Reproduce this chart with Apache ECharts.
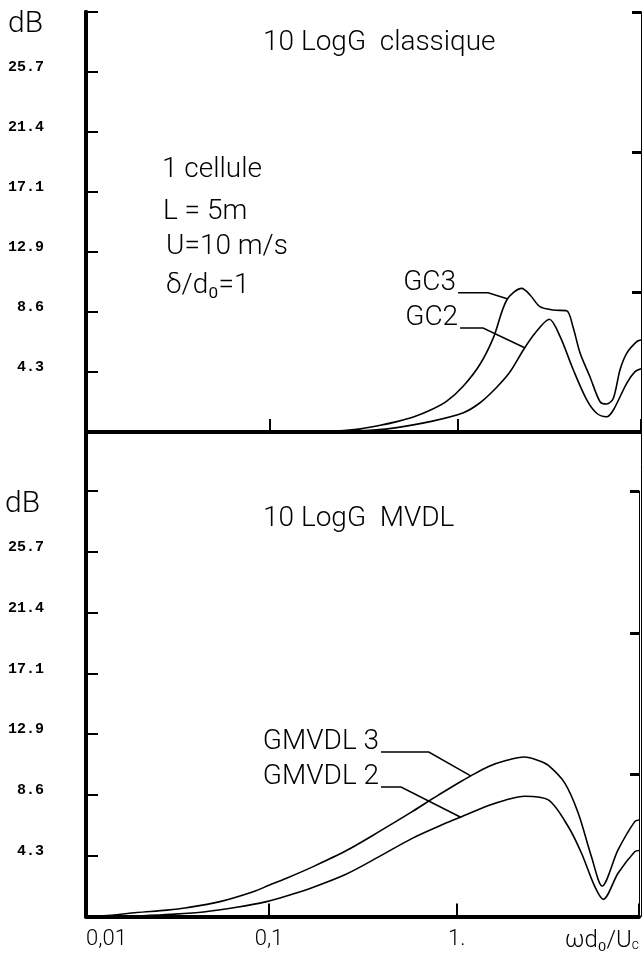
<!DOCTYPE html>
<html>
<head>
<meta charset="utf-8">
<script src="https://cdn.jsdelivr.net/npm/echarts@6/dist/echarts.min.js"></script>
<style>
html,body{margin:0;padding:0;background:#fff;}
#chart{width:642px;height:959px;}
</style>
</head>
<body>
<div id="chart"></div>
<script>
// axe x : wd0/Uc (log), axe y : dB
var xMin = 0.0106, xMax = 9.35;
var yMax = 30, yStep = 30 / 7;

// 10 LogG classique
var gc3X = [0.0106, 0.1, 0.21, 0.29, 0.386, 0.473, 0.579, 0.710, 0.871, 1.067, 1.308, 1.54, 1.813, 2.177, 2.41, 2.72, 3.20, 3.77, 4.07, 4.44, 5.01, 5.67, 6.15, 6.67, 7.23, 7.85, 8.87, 9.35];
var gc3Y = [0, 0, 0.05, 0.19, 0.48, 0.74, 1.07, 1.55, 2.21, 3.29, 4.84, 6.74, 9.43, 10.26, 9.79, 8.95, 8.71, 8.66, 7.52, 5.64, 3.95, 2.16, 2.0, 2.41, 4.43, 5.62, 6.45, 6.57];
var gc2X = [0.0106, 0.2, 0.355, 0.473, 0.710, 1.067, 1.308, 1.604, 1.888, 2.22, 2.56, 3.05, 3.48, 4.09, 4.82, 5.44, 6.15, 6.67, 7.85, 8.69, 9.35];
var gc2Y = [0, 0, 0.14, 0.31, 0.74, 1.38, 2.09, 3.2, 4.3, 5.86, 7.05, 8.05, 6.81, 4.43, 2.29, 1.34, 1.09, 1.57, 3.48, 4.31, 4.52];

// 10 LogG MVDL
var mv3X = [0.0106, 0.0132, 0.0198, 0.0286, 0.0365, 0.0548, 0.0824, 0.1, 0.124, 0.1708, 0.257, 0.3857, 0.579, 0.710, 0.803, 1.025, 1.182, 1.478, 1.81, 2.295, 2.72, 3.076, 3.77, 4.44, 5.22, 5.95, 7.23, 8.87, 9.35];
var mv3Y = [0, 0.05, 0.28, 0.45, 0.62, 1.05, 1.75, 2.2, 2.7, 3.5, 4.63, 5.98, 7.39, 8.14, 8.58, 9.43, 9.9, 10.58, 10.98, 11.25, 11.0, 10.65, 9.39, 7.28, 4.22, 2.15, 4.69, 6.69, 6.8];
var mv2X = [0.0106, 0.0198, 0.0298, 0.0448, 0.0673, 0.097, 0.124, 0.1708, 0.257, 0.3857, 0.579, 0.871, 1.046, 1.478, 1.81, 2.295, 3.076, 3.93, 4.62, 5.44, 6.03, 7.23, 8.87, 9.35];
var mv2Y = [0, 0.03, 0.15, 0.32, 0.65, 1.05, 1.45, 2.05, 2.98, 4.22, 5.51, 6.57, 7.0, 7.82, 8.2, 8.48, 8.22, 6.33, 4.46, 2.10, 1.21, 3.05, 4.57, 4.65];

// etiquettes des courbes : [x, dB] du trait de rappel
var curveLabels = ['GC3', 'GC2', 'GMVDL 3', 'GMVDL 2'];
var leaderPts = [
	[[1.0, 9.95], [1.443, 9.95], [1.84, 9.5]],
	[[1.025, 7.43], [1.357, 7.43], [2.27, 6.0]],
	[[0.395, 11.6], [0.71, 11.6], [1.187, 9.92]],
	[[0.395, 9.13], [0.505, 9.13], [1.05, 7.0]]
];

var xLabels = {'0.01': '0,01', '0.1': '0,1', '1': '1.'};

function zip(xs, ys){
	var out = [];
	for(var i = 0; i < xs.length; i++){
		out.push([xs[i], ys[i]]);
	}
	return out;
}

var lettre = {fontFamily: 'Roboto', fontWeight: 300, fontSize: 28, fill: '#000'};

function xAxisLog(grid, pos, lineW, withTicks, withLabels){
	return {
		type: 'log', logBase: 10, gridIndex: grid, position: pos,
		min: xMin, max: xMax,
		axisLine: {show: lineW > 0, lineStyle: {color: '#000', width: lineW}},
		axisTick: {show: withTicks, inside: true, length: 13, lineStyle: {color: '#000', width: 2}},
		axisLabel: {
			show: withLabels, margin: 12, showMinLabel: true, showMaxLabel: true,
			alignMinLabel: 'left', alignMaxLabel: 'right',
			fontFamily: 'Roboto', fontWeight: 300, fontSize: 22, color: '#000',
			formatter: function(v){
				if(v < 0.05) return xLabels['0.01'];
				if(Math.abs(v - 0.1) < 1e-6) return xLabels['0.1'];
				if(Math.abs(v - 1) < 1e-6) return xLabels['1'];
				if(v > 5) return '{m|ωd₀/U}{s|c}';
				return '';
			},
			rich: {
				m: {fontFamily: 'Roboto', fontWeight: 300, fontSize: 24, color: '#000'},
				s: {fontFamily: 'Roboto', fontWeight: 300, fontSize: 14, color: '#000', padding: [10, 0, 0, 0]}
			}
		},
		splitLine: {show: false}, minorTick: {show: false}
	};
}

function yAxisDb(grid){
	return {
		type: 'value', gridIndex: grid, position: 'left',
		min: 0, max: yMax, interval: yStep,
		axisLine: {show: true, lineStyle: {color: '#000', width: 4}},
		axisTick: {show: true, inside: true, length: 12, lineStyle: {color: '#000', width: 2}},
		axisLabel: {
			margin: 42, color: '#000',
			fontFamily: 'Liberation Mono', fontWeight: 'bold', fontSize: 15,
			formatter: function(v){
				return (v > 0.1 && v < yMax - 0.1) ? '{t|' + v.toFixed(1) + '}' : '';
			},
			rich: {
				t: {fontFamily: 'Liberation Mono', fontWeight: 'bold', fontSize: 15, color: '#000', padding: [0, 0, 9, 0]}
			}
		},
		splitLine: {show: false}
	};
}

function yAxisRight(grid){
	return {
		type: 'value', gridIndex: grid, position: 'right',
		min: 0, max: yMax, interval: 10,
		axisLine: {show: true, lineStyle: {color: '#000', width: 1}},
		axisTick: {show: true, inside: true, length: 9, lineStyle: {color: '#000', width: 3}},
		axisLabel: {show: false},
		splitLine: {show: false}
	};
}

function courbe(name, data, axis){
	return {
		name: name, type: 'line', data: data,
		xAxisIndex: axis, yAxisIndex: axis,
		showSymbol: false, smooth: 0.3, clip: true,
		lineStyle: {color: '#000', width: 1.6},
		silent: true
	};
}

var myChart = echarts.init(document.getElementById('chart'));

var option = {
	backgroundColor: '#fff',
	animation: false,
	grid: [
		{left: 86, right: 1, top: 12, height: 420},
		{left: 86, right: 1, top: 491, height: 425.5},
		{left: 86, right: 1, top: 12, height: 904.5}
	],
	xAxis: [
		xAxisLog(0, 'bottom', 4, true, false),
		xAxisLog(0, 'top', 3, false, false),
		xAxisLog(1, 'bottom', 4, true, true),
		xAxisLog(1, 'top', 3, false, false),
		xAxisLog(2, 'bottom', 0, false, false)
	],
	yAxis: [
		yAxisDb(0),
		yAxisRight(0),
		yAxisDb(1),
		yAxisRight(1),
		{type: 'value', gridIndex: 2, position: 'left', min: 0, max: 1,
			axisLine: {show: true, lineStyle: {color: '#000', width: 4}},
			axisTick: {show: false}, axisLabel: {show: false}, splitLine: {show: false}},
		{type: 'value', gridIndex: 2, position: 'right', min: 0, max: 1,
			axisLine: {show: true, lineStyle: {color: '#000', width: 1}},
			axisTick: {show: false}, axisLabel: {show: false}, splitLine: {show: false}}
	],
	series: [
		courbe('GC3', zip(gc3X, gc3Y), 0),
		courbe('GC2', zip(gc2X, gc2Y), 0),
		courbe('GMVDL 3', zip(mv3X, mv3Y), 2),
		courbe('GMVDL 2', zip(mv2X, mv2Y), 2)
	]
};
myChart.setOption(option);

// textes et traits de rappel
function texte(str, x, y, align, size){
	return {
		type: 'text', x: x, y: y, z: 10, silent: true,
		style: {
			text: str, fontFamily: lettre.fontFamily, fontWeight: lettre.fontWeight,
			fontSize: size || lettre.fontSize, fill: lettre.fill,
			align: align || 'left', verticalAlign: 'middle'
		}
	};
}

var elements = [
	texte('dB', 8, 24, 'left', 30),
	texte('dB', 5, 504, 'left', 30),
	texte('10 LogG  classique', 263, 43),
	texte('10 LogG  MVDL', 263, 519),
	texte('1 cellule', 162, 170),
	texte('L = 5m', 163, 212),
	texte('U=10 m/s', 166, 247),
	texte('δ/d₀=1', 166, 286)
];

for(var i = 0; i < leaderPts.length; i++){
	var px = [];
	for(var j = 0; j < leaderPts[i].length; j++){
		px.push(myChart.convertToPixel({seriesIndex: i}, leaderPts[i][j]));
	}
	elements.push({
		type: 'polyline', z: 10, silent: true,
		shape: {points: px},
		style: {stroke: '#000', lineWidth: 1.5, fill: null}
	});
	elements.push(texte(curveLabels[i], px[0][0] - 2, px[0][1] - 10, 'right'));
}

myChart.setOption({graphic: elements});
</script>
</body>
</html>
